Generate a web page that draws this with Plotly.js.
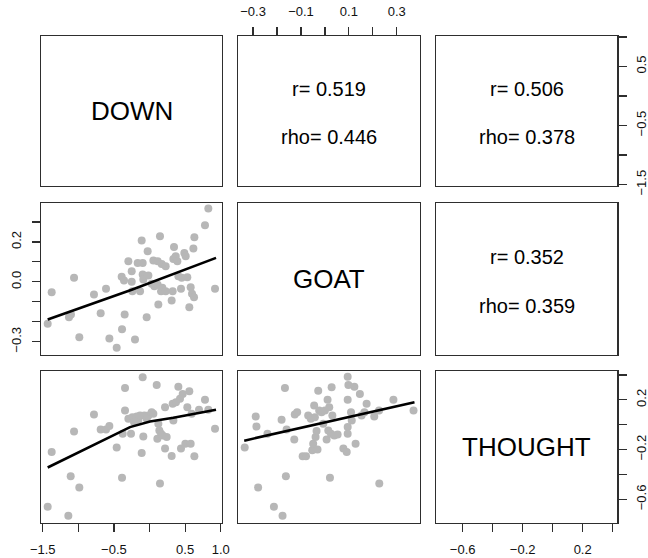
<!DOCTYPE html>
<html>
<head>
<meta charset="utf-8">
<script src="https://cdn.plot.ly/plotly-3.0.1.min.js"></script>
<style>html,body{margin:0;padding:0;background:#fff;}#chart{width:648px;height:558px;}</style>
</head>
<body>
<div id="chart"></div>
<script>
// Variable names (diagonal)
const varNames = ["DOWN", "GOAT", "THOUGHT"];

// Correlation texts (upper panels)
const corrR = ["r= 0.519", "r= 0.506", "r= 0.352"];
const corrRho = ["rho= 0.446", "rho= 0.378", "rho= 0.359"];

// Panel row2,col1: x = DOWN, y = GOAT
const p21Down = [-1.430,-1.374,-1.131,-1.103,-1.060,-0.986,-0.780,-0.686,-0.611,-0.564,-0.461,-0.386,-0.349,-0.391,-0.358,-0.297,-0.250,-0.250,-0.241,-0.204,-0.166,-0.133,-0.110,-0.096,-0.096,-0.087,-0.040,-0.026,-0.016,0.030,0.054,0.068,0.115,0.124,0.115,0.147,0.162,0.171,0.180,0.227,0.227,0.311,0.325,0.335,0.344,0.368,0.391,0.405,0.442,0.452,0.489,0.508,0.531,0.559,0.578,0.597,0.625,0.616,0.630,0.779,0.826,0.920];
const p21Goat = [-0.210,-0.052,-0.177,-0.164,0.020,-0.277,-0.064,-0.157,-0.034,-0.284,-0.330,-0.237,-0.164,0.025,0.007,0.103,0.053,0.000,-0.047,-0.289,0.095,-0.047,0.207,0.095,0.037,0.012,-0.177,0.153,0.032,-0.010,0.107,-0.022,0.103,-0.114,-0.014,0.228,-0.047,0.090,-0.030,0.078,-0.047,-0.094,-0.047,0.115,0.175,0.128,0.103,0.028,-0.035,0.020,0.145,0.128,0.023,-0.127,-0.027,-0.060,-0.077,0.167,0.223,0.283,0.367,-0.035];
const p21LineX = [-1.430, -0.250, 0.934];
const p21LineY = [-0.189, -0.040, 0.120];

// Panel row3,col1: x = DOWN, y = THOUGHT
const p31Down = [-1.430,-1.374,-1.140,-1.107,-1.060,-0.986,-0.780,-0.686,-0.611,-0.564,-0.461,-0.386,-0.377,-0.344,-0.344,-0.297,-0.260,-0.241,-0.218,-0.180,-0.157,-0.133,-0.110,-0.096,-0.087,-0.073,-0.040,-0.016,0.030,0.054,0.101,0.110,0.124,0.138,0.147,0.162,0.185,0.218,0.218,0.241,0.311,0.325,0.335,0.372,0.405,0.428,0.442,0.466,0.503,0.531,0.559,0.578,0.592,0.630,0.695,0.779,0.826,0.920];
const p31Thought = [-0.659,-0.219,-0.731,-0.414,-0.054,-0.504,0.082,-0.038,-0.038,-0.011,-0.184,-0.427,-0.072,0.296,0.114,0.048,-0.072,0.061,0.021,0.066,0.040,0.074,-0.227,0.381,-0.094,0.074,0.048,0.074,0.101,0.088,0.320,-0.112,0.008,-0.046,-0.472,-0.072,-0.086,0.141,-0.192,-0.099,-0.251,0.168,0.034,0.181,0.306,0.208,-0.192,0.248,-0.152,0.141,0.269,-0.152,0.088,-0.254,0.120,0.200,0.120,-0.032];
const p31LineX = [-1.430, -0.274, 0.007, 0.335, 0.934];
const p31LineY = [-0.344, -0.019, 0.026, 0.056, 0.120];

// Panel row3,col2: x = GOAT, y = THOUGHT
const p32Goat = [-0.335,-0.289,-0.286,-0.279,-0.240,-0.213,-0.181,-0.177,-0.167,-0.163,-0.160,-0.128,-0.126,-0.116,-0.093,-0.079,-0.070,-0.059,-0.053,-0.049,-0.045,-0.042,-0.039,-0.035,-0.031,-0.028,-0.024,-0.014,-0.007,0.000,0.007,0.011,0.014,0.018,0.021,0.025,0.028,0.031,0.039,0.053,0.077,0.091,0.095,0.098,0.095,0.095,0.095,0.109,0.112,0.123,0.128,0.146,0.153,0.165,0.174,0.206,0.226,0.227,0.286,0.370];
const p32Thought = [-0.184,0.066,-0.014,-0.504,-0.072,-0.659,0.040,-0.731,0.296,-0.414,-0.038,-0.118,0.082,0.101,-0.254,-0.254,0.074,0.048,-0.206,-0.152,0.154,0.061,-0.099,-0.051,-0.200,0.274,0.114,0.101,0.008,0.114,-0.118,0.200,-0.046,0.141,-0.427,-0.072,0.301,0.074,-0.086,-0.078,-0.192,-0.219,0.386,0.320,0.200,-0.019,-0.072,0.101,0.034,0.306,-0.152,0.248,0.074,0.101,0.168,0.066,0.114,-0.472,0.200,0.114];
const p32LineX = [-0.337, 0.374];
const p32LineY = [-0.128, 0.181];

// Tick values / labels
const downTicks = [-1.5, -1.0, -0.5, 0.0, 0.5, 1.0];
const downBottomLabels = ["\u22121.5", "", "\u22120.5", "", "0.5", "1.0"];
const downRightLabels = ["\u22121.5", "", "\u22120.5", "", "0.5", ""];
const goatTicks = [-0.3, -0.2, -0.1, 0.0, 0.1, 0.2, 0.3];
const goatTopLabels = ["\u22120.3", "", "\u22120.1", "", "0.1", "", "0.3"];
const goatLeftLabels = ["\u22120.3", "", "", "0.0", "", "0.2", ""];
const thoughtTicks = [-0.6, -0.4, -0.2, 0.0, 0.2, 0.4];
const thoughtLabels = ["\u22120.6", "", "\u22120.2", "", "0.2", ""];

// Layout geometry
const W = 648, H = 558;
const colPx = [[41, 222], [238, 420], [436, 617.3]];
const rowPx = [[36, 186], [203, 355], [371, 523]];
const xRanges = [[-1.524, 1.018], [-0.363, 0.397], [-0.778, 0.431]];
const yRanges = [[-1.524, 1.017], [-0.3665, 0.395], [-0.79, 0.432]];

const FONT = "Liberation Sans, Arial, Helvetica, sans-serif";
const ptColor = "#b7b7b7";
const boxColor = "#2e2e2e";

const layout = {
  width: W, height: H,
  margin: {l: 0, r: 0, t: 0, b: 0},
  paper_bgcolor: "#fff", plot_bgcolor: "#fff",
  showlegend: false,
  font: {family: FONT, color: "#000"},
  annotations: []
};

function axName(k, t) { return t + (k === 1 ? "" : k); }

for (let r = 0; r < 3; r++) {
  for (let c = 0; c < 3; c++) {
    const k = r * 3 + c + 1;
    const common = {
      showgrid: false, zeroline: false,
      showline: true, mirror: true, linecolor: boxColor, linewidth: 1.2,
      ticks: "", showticklabels: false, fixedrange: true
    };
    layout["xaxis" + (k === 1 ? "" : k)] = Object.assign({
      domain: [colPx[c][0] / W, colPx[c][1] / W],
      range: xRanges[c], anchor: axName(k, "y")
    }, common, {tickfont: {family: FONT, size: 13, color: "#111"}});
    layout["yaxis" + (k === 1 ? "" : k)] = Object.assign({
      domain: [1 - rowPx[r][1] / H, 1 - rowPx[r][0] / H],
      range: yRanges[r], anchor: axName(k, "x")
    }, common, {tickfont: {family: FONT, size: 13, color: "#111"}});
  }
}

function tickSet(ax, vals, labels, side, standoff) {
  ax.ticks = "outside";
  ax.ticklen = 8;
  ax.tickwidth = 1.2;
  ax.tickcolor = boxColor;
  ax.tickmode = "array";
  ax.tickvals = vals;
  ax.ticktext = labels;
  ax.showticklabels = true;
  ax.side = side;
  ax.ticklabelstandoff = standoff;
}
tickSet(layout.xaxis2, goatTicks, goatTopLabels, "top", 6);
tickSet(layout.yaxis3, downTicks, downRightLabels, "right", 4);
layout.yaxis3.tickangle = -90;
tickSet(layout.yaxis4, goatTicks, goatLeftLabels, "left", 6);
layout.yaxis4.tickangle = -90;
tickSet(layout.xaxis7, downTicks, downBottomLabels, "bottom", 6);
tickSet(layout.xaxis9, thoughtTicks, thoughtLabels, "bottom", 6);
tickSet(layout.yaxis9, thoughtTicks, thoughtLabels, "right", 4);
layout.yaxis9.tickangle = -90;

// Diagonal labels
[1, 5, 9].forEach((k, i) => {
  layout.annotations.push({
    xref: axName(k, "x") + " domain", yref: axName(k, "y") + " domain",
    x: 0.5, y: 0.5, xanchor: "center", yanchor: "middle",
    text: varNames[i], showarrow: false,
    font: {family: FONT, size: 26, color: "#000"}
  });
});
// Correlation texts
[2, 3, 6].forEach((k, i) => {
  layout.annotations.push({
    xref: axName(k, "x") + " domain", yref: axName(k, "y") + " domain",
    x: 0.5, y: 0.645, xanchor: "center", yanchor: "middle",
    text: corrR[i], showarrow: false,
    font: {family: FONT, size: 20, color: "#000"}
  });
  layout.annotations.push({
    xref: axName(k, "x") + " domain", yref: axName(k, "y") + " domain",
    x: 0.5, y: 0.325, xanchor: "center", yanchor: "middle",
    text: corrRho[i], showarrow: false,
    font: {family: FONT, size: 20, color: "#000"}
  });
});

function pts(x, y, k) {
  return {x: x, y: y, type: "scatter", mode: "markers",
    xaxis: axName(k, "x"), yaxis: axName(k, "y"),
    marker: {color: ptColor, size: 8, line: {width: 0}}, hoverinfo: "skip"};
}
function ln(x, y, k) {
  return {x: x, y: y, type: "scatter", mode: "lines",
    xaxis: axName(k, "x"), yaxis: axName(k, "y"),
    line: {color: "#000", width: 2.6}, hoverinfo: "skip"};
}
function blank(k) {
  return {x: [null], y: [null], type: "scatter", mode: "markers",
    xaxis: axName(k, "x"), yaxis: axName(k, "y"),
    marker: {opacity: 0}, hoverinfo: "skip"};
}

const data = [
  blank(1), blank(2), blank(3), blank(5), blank(6), blank(9),
  pts(p21Down, p21Goat, 4), ln(p21LineX, p21LineY, 4),
  pts(p31Down, p31Thought, 7), ln(p31LineX, p31LineY, 7),
  pts(p32Goat, p32Thought, 8), ln(p32LineX, p32LineY, 8)
];

Plotly.newPlot("chart", data, layout, {staticPlot: true, displayModeBar: false});
</script>
</body>
</html>
